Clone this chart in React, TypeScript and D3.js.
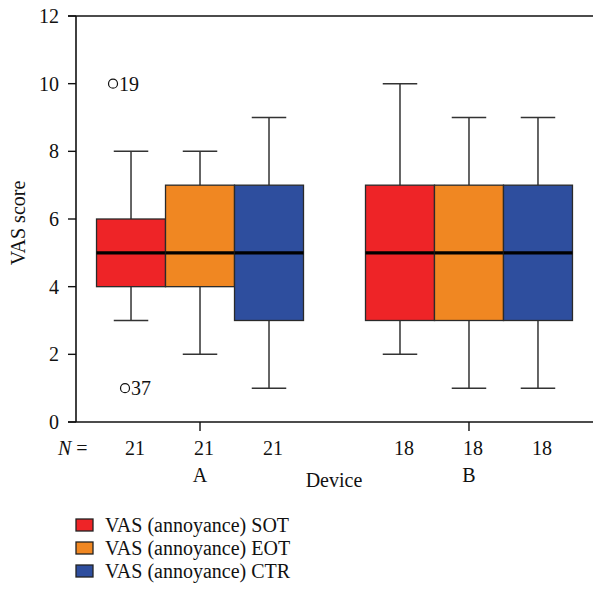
import React from "react";
import * as d3 from "d3";

const groups = ["A", "B"];
const series = ["VAS (annoyance) SOT", "VAS (annoyance) EOT", "VAS (annoyance) CTR"];
const colors = ["#ee2427", "#f08722", "#2e4e9e"];
const yTicks = [0, 2, 4, 6, 8, 10, 12];
// [group][series] = [whiskerLow, q1, median, q3, whiskerHigh]
const statsA = [
  [3, 4, 5, 6, 8],
  [2, 4, 5, 7, 8],
  [1, 3, 5, 7, 9],
];
const statsB = [
  [2, 3, 5, 7, 10],
  [1, 3, 5, 7, 9],
  [1, 3, 5, 7, 9],
];
const nA = [21, 21, 21];
const nB = [18, 18, 18];
const outliers = [
  { group: "A", series: 0, value: 10, label: "19" },
  { group: "A", series: 0, value: 1, label: "37" },
];

const W = 593;
const H = 590;
const M = { left: 76, top: 16, right: 0, bottom: 422 };
const FONT = "'Liberation Serif', 'DejaVu Serif', serif";
const FS = 20;

export default function App() {
  const x0 = d3
    .scaleBand<string>()
    .domain(groups)
    .range([M.left, W - M.right])
    .paddingInner(0.2305)
    .paddingOuter(0.0763);
  const x1 = d3.scaleBand<string>().domain(series).range([0, x0.bandwidth()]);
  const y = d3.scaleLinear().domain([0, 12]).range([M.bottom, M.top]);
  const bw = x1.bandwidth();
  const statsBy: Record<string, number[][]> = { A: statsA, B: statsB };
  const nBy: Record<string, number[]> = { A: nA, B: nB };
  const outlierDx = [-18, -6];

  const cx = (g: string, si: number) => (x0(g) as number) + (x1(series[si]) as number) + bw / 2;

  return (
    <svg width={W} height={H} style={{ position: "absolute", left: 0, top: 0 }} fontFamily={FONT}>
      <rect width={W} height={H} fill="#fff" />
      {/* top line */}
      <line x1={M.left - 8} x2={W} y1={y(12)} y2={y(12)} stroke="#111" strokeWidth={1.6} />
      {/* y axis */}
      <line x1={M.left} x2={M.left} y1={y(12)} y2={y(0)} stroke="#111" strokeWidth={1.6} />
      {yTicks.map((t) => (
        <g key={t}>
          <line x1={M.left - 8} x2={M.left} y1={y(t)} y2={y(t)} stroke="#111" strokeWidth={1.4} />
          <text x={M.left - 17} y={y(t)} dy="0.35em" textAnchor="end" fontSize={FS} fill="#111">
            {t}
          </text>
        </g>
      ))}
      <text
        transform={`translate(25,${(y(0) + y(12)) / 2 + 4}) rotate(-90)`}
        textAnchor="middle"
        fontSize={FS}
        fill="#111"
      >
        VAS score
      </text>
      {/* boxes */}
      {groups.map((g) =>
        statsBy[g].map((s, si) => {
          const c = cx(g, si);
          const left = c - bw / 2;
          return (
            <g key={g + si}>
              <line x1={c} x2={c} y1={y(s[3])} y2={y(s[4])} stroke="#333" strokeWidth={1.5} />
              <line x1={c} x2={c} y1={y(s[1])} y2={y(s[0])} stroke="#333" strokeWidth={1.5} />
              <line x1={c - bw / 4} x2={c + bw / 4} y1={y(s[4])} y2={y(s[4])} stroke="#333" strokeWidth={1.5} />
              <line x1={c - bw / 4} x2={c + bw / 4} y1={y(s[0])} y2={y(s[0])} stroke="#333" strokeWidth={1.5} />
              <rect
                x={left}
                y={y(s[3])}
                width={bw}
                height={y(s[1]) - y(s[3])}
                fill={colors[si]}
                stroke="#2a2a2a"
                strokeWidth={1.3}
              />
              <line x1={left} x2={left + bw} y1={y(s[2])} y2={y(s[2])} stroke="#000" strokeWidth={3.2} />
            </g>
          );
        })
      )}
      {/* outliers */}
      {outliers.map((o, i) => {
        const px = cx(o.group, o.series) + outlierDx[i];
        return (
          <g key={i}>
            <circle cx={px} cy={y(o.value)} r={4.5} fill="#fff" stroke="#111" strokeWidth={1.2} />
            <text x={px + 6} y={y(o.value)} dy="0.35em" fontSize={FS} fill="#111">
              {o.label}
            </text>
          </g>
        );
      })}
      {/* x axis */}
      <line x1={M.left - 8} x2={W} y1={y(0)} y2={y(0)} stroke="#111" strokeWidth={1.6} />
      {groups.map((g) => {
        const gc = (x0(g) as number) + x0.bandwidth() / 2;
        return (
          <g key={g}>
            <line x1={gc} x2={gc} y1={y(0)} y2={y(0) + 9} stroke="#111" strokeWidth={1.4} />
            <text x={gc} y={482} textAnchor="middle" fontSize={FS} fill="#111">
              {g}
            </text>
            {nBy[g].map((n, si) => (
              <text key={si} x={cx(g, si) + 4} y={455} textAnchor="middle" fontSize={FS} fill="#111">
                {n}
              </text>
            ))}
          </g>
        );
      })}
      <text x={58} y={455} fontSize={FS} fill="#111">
        <tspan fontStyle="italic">N</tspan> =
      </text>
      <text x={334} y={487} textAnchor="middle" fontSize={FS} fill="#111">
        Device
      </text>
      {/* legend */}
      {series.map((s, i) => (
        <g key={s} transform={`translate(76,${525 + i * 23})`}>
          <rect x={0} y={-6} width={17} height={12} fill={colors[i]} stroke="#222" strokeWidth={1.3} />
          <text x={29} y={0} dy="0.35em" fontSize={FS} fill="#111">
            {s}
          </text>
        </g>
      ))}
    </svg>
  );
}
